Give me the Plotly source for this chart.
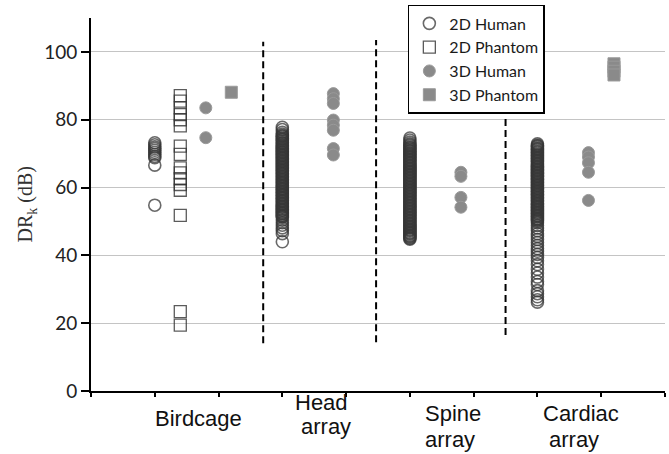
import plotly.graph_objects as go

# ---------------- data ----------------
categories = ["Birdcage", "Head array", "Spine array", "Cardiac array"]
series_names = ["2D Human", "2D Phantom", "3D Human", "3D Phantom"]

birdcage_2d_human = [73.2, 72.6, 72.0, 71.5, 71.0, 70.4, 69.8, 69.2, 68.8, 66.6, 54.8]
birdcage_2d_phantom = [87.1, 85.5, 83.5, 81.5, 80.0, 78.2, 72.2, 69.8, 65.8, 64.3, 62.6,
                       60.9, 59.2, 51.8, 23.4, 19.4]
birdcage_3d_human = [83.5, 74.7]
birdcage_3d_phantom = [88.1]

head_2d_human = [77.8, 77.1, 76.3,
                 75.8, 75.4, 75.2, 74.9, 74.5, 74.3, 74.0, 73.7, 73.3, 73.1, 72.8, 72.4,
                 72.2, 71.9, 71.5, 71.3, 71.0, 70.6, 70.4, 70.1, 69.7, 69.5, 69.2, 68.8,
                 68.6, 68.3, 67.9, 67.7, 67.4, 67.0, 66.8, 66.5, 66.1, 65.9, 65.6, 65.2,
                 65.0, 64.7, 64.3, 64.1, 63.8, 63.4, 63.2, 62.9, 62.5, 62.3, 62.0, 61.6,
                 61.4, 61.1, 60.7, 60.5, 60.2, 59.8, 59.6, 59.3, 58.9, 58.7, 58.4, 58.0,
                 57.8, 57.5, 57.1, 56.9, 56.6, 56.2, 56.0, 55.7, 55.3, 55.1, 54.8, 54.4,
                 54.2, 53.9, 53.5, 53.3, 53.0, 52.6, 52.4, 52.1, 51.7, 51.5, 51.2,
                 50.4, 49.6, 48.9, 48.1, 47.3, 46.4, 44.0]
head_3d_human = [87.7, 86.2, 84.8, 79.9, 78.4, 76.9, 71.5, 69.6]

spine_2d_human = [74.6, 74.0, 73.4,
                  72.9, 72.6, 72.3, 71.9, 71.7, 71.4, 71.0, 70.8, 70.5, 70.1, 69.9, 69.6,
                  69.2, 69.0, 68.7, 68.3, 68.1, 67.8, 67.4, 67.2, 66.9, 66.5, 66.3, 66.0,
                  65.6, 65.4, 65.1, 64.7, 64.5, 64.2, 63.8, 63.6, 63.3, 62.9, 62.7, 62.4,
                  62.0, 61.8, 61.5, 61.1, 60.9, 60.6, 60.2, 60.0, 59.7, 59.3, 59.1, 58.8,
                  58.4, 58.2, 57.9, 57.5, 57.3, 57.0, 56.6, 56.4, 56.1, 55.7, 55.5, 55.2,
                  54.8, 54.6, 54.3, 53.9, 53.7, 53.4, 53.0, 52.8, 52.5, 52.1, 51.9, 51.6,
                  51.2, 51.0, 50.7, 50.3, 50.1, 49.8, 49.4, 49.2, 48.9, 48.5, 48.3, 48.0,
                  47.6, 47.4, 47.1, 46.7, 46.5, 46.2, 45.8, 45.6, 45.3, 45.0, 44.8]
spine_3d_human = [64.5, 63.3, 57.1, 54.2]

cardiac_2d_human = [72.9, 72.5, 72.3, 72.0, 71.6, 71.4, 71.1, 70.7, 70.5, 70.2, 69.8, 69.6,
                    69.3, 68.9, 68.7, 68.4, 68.0, 67.8, 67.5, 67.1, 66.9, 66.6, 66.2, 66.0,
                    65.7, 65.3, 65.1, 64.8, 64.4, 64.2, 63.9, 63.5, 63.3, 63.0, 62.6, 62.4,
                    62.1, 61.7, 61.5, 61.2, 60.8, 60.6, 60.3, 59.9, 59.7, 59.4, 59.0, 58.8,
                    58.5, 58.1, 57.9, 57.6, 57.2, 57.0, 56.7, 56.3, 56.1, 55.8, 55.4, 55.2,
                    54.9, 54.5, 54.3, 54.0, 53.6, 53.4, 53.1, 52.7, 52.5, 52.2, 51.8, 51.6,
                    51.3, 50.9, 50.7, 50.4, 50.1,
                    49.6, 48.8, 48.1, 47.3, 46.4, 45.6, 44.7, 43.8, 42.9, 42.0, 41.2, 40.3,
                    39.4, 38.4, 37.3, 35.9, 34.8, 33.6, 32.3, 31.4, 29.6, 28.7, 27.8, 26.9,
                    26.2]
cardiac_3d_human = [70.3, 69.0, 67.3, 64.5, 56.2]
cardiac_3d_phantom = [96.5, 95.5, 94.3, 93.2]

y_ticks = [0, 20, 40, 60, 80, 100]

# ---------------- layout helpers ----------------
cat_pos = {"Birdcage": 1, "Head array": 3, "Spine array": 5, "Cardiac array": 7}
series_offset = {"2D Human": 0.0, "2D Phantom": 0.4, "3D Human": 0.8, "3D Phantom": 1.2}

data = {
    "2D Human": {"Birdcage": birdcage_2d_human, "Head array": head_2d_human,
                 "Spine array": spine_2d_human, "Cardiac array": cardiac_2d_human},
    "2D Phantom": {"Birdcage": birdcage_2d_phantom},
    "3D Human": {"Birdcage": birdcage_3d_human, "Head array": head_3d_human,
                 "Spine array": spine_3d_human, "Cardiac array": cardiac_3d_human},
    "3D Phantom": {"Birdcage": birdcage_3d_phantom, "Cardiac array": cardiac_3d_phantom},
}

styles = {
    "2D Human": dict(symbol="circle", size=12, color="rgba(0,0,0,0)",
                     line=dict(color="rgba(55,55,55,0.75)", width=1.6)),
    "2D Phantom": dict(symbol="square", size=12, color="rgba(0,0,0,0)",
                       line=dict(color="rgba(50,50,50,0.8)", width=1.3)),
    "3D Human": dict(symbol="circle", size=12, color="#8a8a8a",
                     line=dict(color="#9a9a9a", width=1)),
    "3D Phantom": dict(symbol="square", size=12, color="#8a8a8a",
                       line=dict(color="#9a9a9a", width=1)),
}

fig = go.Figure()
for s in series_names:
    xs, ys = [], []
    for c in categories:
        vals = data[s].get(c, [])
        xs += [cat_pos[c] + series_offset[s]] * len(vals)
        ys += vals
    fig.add_trace(go.Scatter(x=xs, y=ys, mode="markers", name=s,
                             marker=styles[s], cliponaxis=False))

# dashed separators
separators = [(2.7, 14.1, 103.0), (4.47, 14.4, 103.5), (6.5, 16.5, 80.5)]
for xv, y0, y1 in separators:
    fig.add_shape(type="line", xref="x", yref="y", x0=xv, x1=xv, y0=y0, y1=y1,
                  line=dict(color="black", width=2, dash="7px,4px"))

# category labels (y in paper units below the axis)
label_font = dict(family="Liberation Sans, Arial, sans-serif", size=22, color="#111111")
cat_labels = [
    ("Birdcage", 1.68, -0.0724),
    ("Head", 3.62, -0.0295), ("array", 3.68, -0.0965),
    ("Spine", 5.67, -0.0590), ("array", 5.63, -0.1287),
    ("Cardiac", 7.68, -0.0590), ("array", 7.57, -0.1287),
]
for txt, xv, yv in cat_labels:
    fig.add_annotation(x=xv, y=yv, xref="x", yref="paper", text=txt, showarrow=False,
                       xanchor="center", yanchor="middle", font=label_font)

fig.add_annotation(x=-0.1115, y=0.50, xref="paper", yref="paper",
                   text="DR<sub>k</sub> (dB)", textangle=-90, showarrow=False,
                   xanchor="center", yanchor="middle",
                   font=dict(family="Liberation Serif, Times New Roman, serif", size=20,
                             color="#333333"))

fig.update_layout(
    width=669, height=454,
    margin=dict(l=91, r=4, t=18, b=63),
    paper_bgcolor="white", plot_bgcolor="white",
    showlegend=True,
    legend=dict(x=0.552, y=1.035, xanchor="left", yanchor="top",
                bgcolor="white", bordercolor="black", borderwidth=1.5,
                font=dict(family="Lato, sans-serif", size=16, color="#1a1a1a")),
    xaxis=dict(range=[0, 9], tickmode="array", tickvals=list(range(10)),
               showticklabels=False, ticks="outside", ticklen=4, tickwidth=1.5,
               tickcolor="black", showline=True, linecolor="black", linewidth=2,
               showgrid=False, zeroline=False),
    yaxis=dict(range=[0, 110], tickmode="array", tickvals=y_ticks,
               ticks="outside", ticklen=8, tickwidth=1.5, tickcolor="black",
               showline=True, linecolor="black", linewidth=2,
               showgrid=True, gridcolor="#c4c4c4", gridwidth=1.3, zeroline=False,
               tickfont=dict(family="Lato, sans-serif", size=19, color="#222222")),
)

fig.write_html("out.html")
